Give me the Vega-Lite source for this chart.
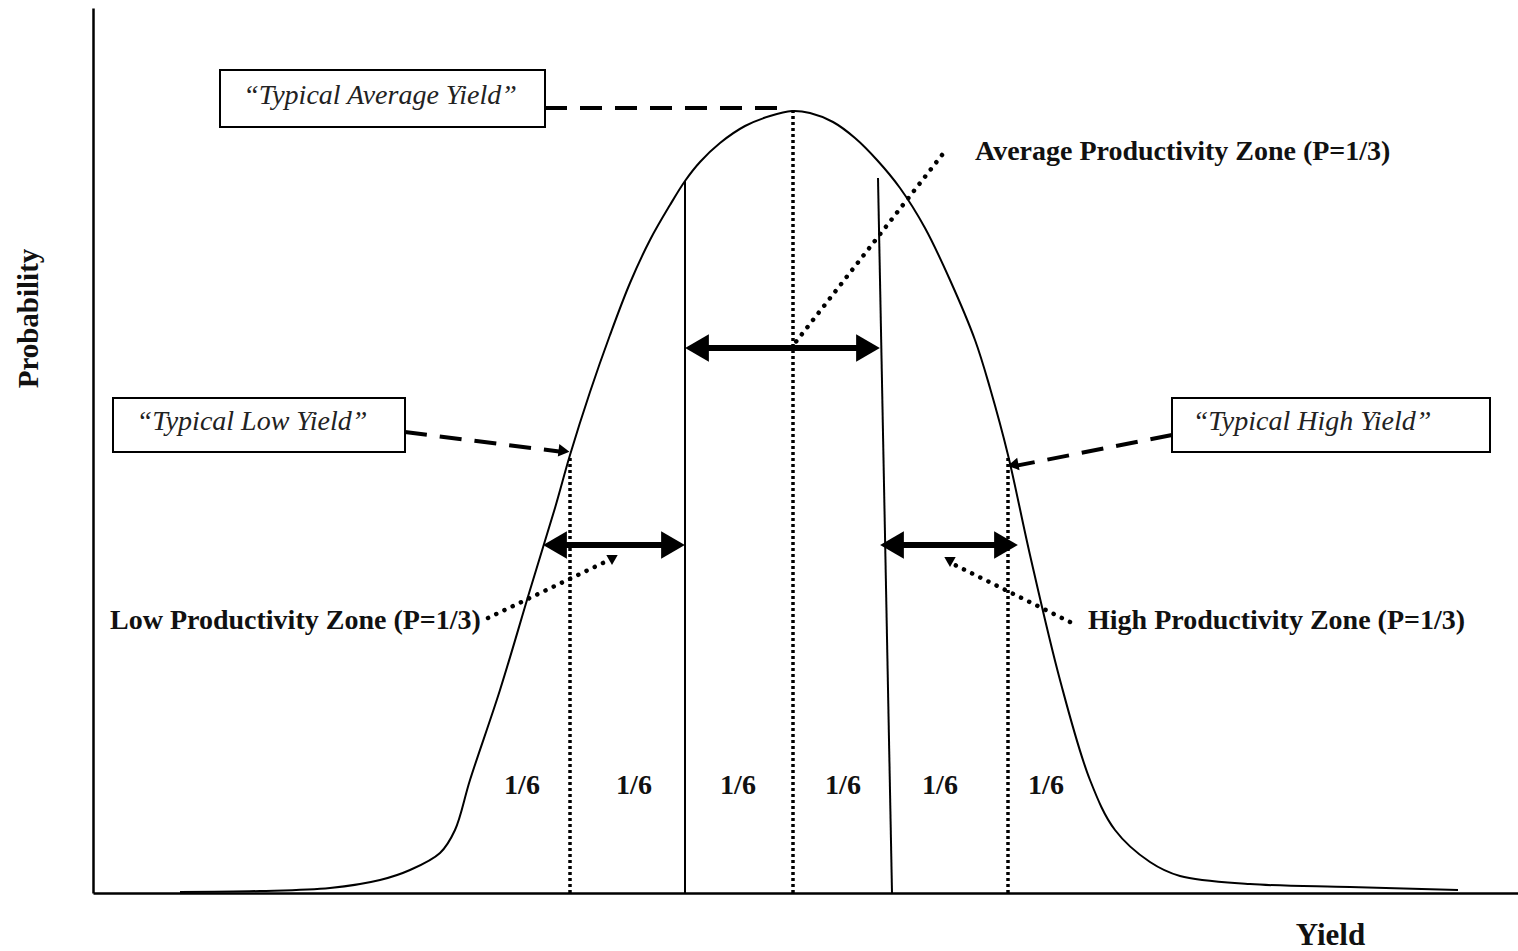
{
  "$schema": "https://vega.github.io/schema/vega-lite/v6.json",
  "width": 1425,
  "height": 885,
  "autosize": {"type": "none"},
  "padding": {"left": 93, "top": 8, "right": 0, "bottom": 58},
  "background": "white",
  "config": {"view": {"stroke": null}, "font": "Liberation Serif"},
  "datasets": {
    "curve": [
      {"yield": 87, "prob": 1}, {"yield": 167, "prob": 2}, {"yield": 237, "prob": 5},
      {"yield": 287, "prob": 13}, {"yield": 317, "prob": 23}, {"yield": 347, "prob": 40},
      {"yield": 362, "prob": 63}, {"yield": 377, "prob": 113}, {"yield": 407, "prob": 203},
      {"yield": 437, "prob": 303}, {"yield": 462, "prob": 385}, {"yield": 477, "prob": 438},
      {"yield": 497, "prob": 501}, {"yield": 517, "prob": 558}, {"yield": 537, "prob": 610},
      {"yield": 557, "prob": 653}, {"yield": 577, "prob": 688}, {"yield": 592, "prob": 712},
      {"yield": 607, "prob": 731}, {"yield": 627, "prob": 750}, {"yield": 652, "prob": 767},
      {"yield": 677, "prob": 777}, {"yield": 699, "prob": 782}, {"yield": 717, "prob": 780},
      {"yield": 740, "prob": 771}, {"yield": 762, "prob": 755}, {"yield": 784, "prob": 733},
      {"yield": 807, "prob": 705}, {"yield": 832, "prob": 665}, {"yield": 857, "prob": 613},
      {"yield": 882, "prob": 553}, {"yield": 897, "prob": 505}, {"yield": 915, "prob": 438},
      {"yield": 937, "prob": 338}, {"yield": 967, "prob": 213}, {"yield": 997, "prob": 113},
      {"yield": 1022, "prob": 63}, {"yield": 1057, "prob": 31}, {"yield": 1087, "prob": 17},
      {"yield": 1157, "prob": 9}, {"yield": 1257, "prob": 6}, {"yield": 1365, "prob": 3}
    ],
    "dottedV": [
      {"x": 477, "x2": 477, "y": 0, "y2": 438},
      {"x": 700, "x2": 700, "y": 0, "y2": 782},
      {"x": 915, "x2": 915, "y": 0, "y2": 436}
    ],
    "solidV": [
      {"x": 592, "x2": 592, "y": 0, "y2": 712},
      {"x": 799, "x2": 785, "y": 0, "y2": 715}
    ],
    "shafts": [
      {"x": 600, "x2": 779, "y": 545},
      {"x": 458, "x2": 584, "y": 348},
      {"x": 795, "x2": 917, "y": 348}
    ],
    "headsL": [
      {"x": 604, "y": 545}, {"x": 462, "y": 348}, {"x": 799, "y": 348}
    ],
    "headsR": [
      {"x": 775, "y": 545}, {"x": 580, "y": 348}, {"x": 913, "y": 348}
    ],
    "dashed": [
      {"x": 452, "x2": 697, "y": 785, "y2": 785},
      {"x": 312, "x2": 470, "y": 461, "y2": 441},
      {"x": 1079, "x2": 922, "y": 458, "y2": 427}
    ],
    "dashHeads": [
      {"x": 471, "y": 442, "dir": "right"},
      {"x": 920, "y": 428, "dir": "left"}
    ],
    "dotted": [
      {"x": 849, "x2": 702, "y": 738, "y2": 550},
      {"x": 395, "x2": 512, "y": 275, "y2": 331},
      {"x": 977, "x2": 862, "y": 271, "y2": 328}
    ],
    "dotHeads": [
      {"x": 519, "y": 333}, {"x": 857, "y": 331}
    ],
    "boxes": [
      {"x": 127, "x2": 452, "y": 823, "y2": 766, "label": "“Typical Average Yield”", "cx": 287, "cy": 797},
      {"x": 20, "x2": 312, "y": 495, "y2": 441, "label": "“Typical Low Yield”", "cx": 159, "cy": 471},
      {"x": 1079, "x2": 1397, "y": 495, "y2": 441, "label": "“Typical High Yield”", "cx": 1219, "cy": 471}
    ],
    "zones": [
      {"x": 882, "y": 741, "label": "Average Productivity Zone (P=1/3)"},
      {"x": 17, "y": 272, "label": "Low Productivity Zone (P=1/3)"},
      {"x": 995, "y": 272, "label": "High Productivity Zone (P=1/3)"}
    ],
    "sixths": [
      {"x": 429, "y": 107, "label": "1/6"}, {"x": 541, "y": 107, "label": "1/6"},
      {"x": 645, "y": 107, "label": "1/6"}, {"x": 750, "y": 107, "label": "1/6"},
      {"x": 847, "y": 107, "label": "1/6"}, {"x": 953, "y": 107, "label": "1/6"}
    ]
  },
  "layer": [
    {
      "data": {"name": "curve"},
      "mark": {"type": "line", "color": "black", "strokeWidth": 2, "interpolate": "catmull-rom"},
      "encoding": {
        "x": {"field": "yield", "type": "quantitative",
              "scale": {"domain": [0, 1425], "nice": false, "zero": false},
              "axis": {"domain": true, "domainColor": "black", "domainWidth": 2.5, "ticks": false, "labels": false, "grid": false,
                       "title": "Yield", "titleFont": "Liberation Serif", "titleFontSize": 31, "titleFontWeight": "bold",
                       "titleColor": "#111", "titleX": 1237, "titleY": 42, "titleAlign": "center", "titleBaseline": "middle"}},
        "y": {"field": "prob", "type": "quantitative",
              "scale": {"domain": [0, 885], "nice": false, "zero": false},
              "axis": {"domain": true, "domainColor": "black", "domainWidth": 2.5, "ticks": false, "labels": false, "grid": false,
                       "title": "Probability", "titleFont": "Liberation Serif", "titleFontSize": 29, "titleFontWeight": "bold",
                       "titleColor": "#111", "titleX": -65, "titleY": 310, "titleAlign": "center", "titleBaseline": "middle", "titleAngle": -90}}
      }
    },
    {
      "data": {"name": "dottedV"},
      "mark": {"type": "rule", "color": "black", "strokeWidth": 3.5, "strokeDash": [3, 3]},
      "encoding": {
        "x": {"field": "x", "type": "quantitative"}, "x2": {"field": "x2"},
        "y": {"field": "y", "type": "quantitative"}, "y2": {"field": "y2"}
      }
    },
    {
      "data": {"name": "solidV"},
      "mark": {"type": "rule", "color": "black", "strokeWidth": 2},
      "encoding": {
        "x": {"field": "x", "type": "quantitative"}, "x2": {"field": "x2"},
        "y": {"field": "y", "type": "quantitative"}, "y2": {"field": "y2"}
      }
    },
    {
      "data": {"name": "shafts"},
      "mark": {"type": "rule", "color": "black", "strokeWidth": 6},
      "encoding": {
        "x": {"field": "x", "type": "quantitative"}, "x2": {"field": "x2"},
        "y": {"field": "y", "type": "quantitative"}
      }
    },
    {
      "data": {"name": "headsL"},
      "mark": {"type": "point", "shape": "triangle-left", "filled": true, "color": "black", "size": 750, "opacity": 1},
      "encoding": {
        "x": {"field": "x", "type": "quantitative"},
        "y": {"field": "y", "type": "quantitative"}
      }
    },
    {
      "data": {"name": "headsR"},
      "mark": {"type": "point", "shape": "triangle-right", "filled": true, "color": "black", "size": 750, "opacity": 1},
      "encoding": {
        "x": {"field": "x", "type": "quantitative"},
        "y": {"field": "y", "type": "quantitative"}
      }
    },
    {
      "data": {"name": "dashed"},
      "mark": {"type": "rule", "color": "black", "strokeWidth": 4, "strokeDash": [22, 13]},
      "encoding": {
        "x": {"field": "x", "type": "quantitative"}, "x2": {"field": "x2"},
        "y": {"field": "y", "type": "quantitative"}, "y2": {"field": "y2"}
      }
    },
    {
      "data": {"name": "dashHeads"},
      "transform": [{"filter": "datum.dir == 'right'"}],
      "mark": {"type": "point", "shape": "triangle-right", "filled": true, "color": "black", "size": 160, "opacity": 1, "angle": 7},
      "encoding": {
        "x": {"field": "x", "type": "quantitative"},
        "y": {"field": "y", "type": "quantitative"}
      }
    },
    {
      "data": {"name": "dashHeads"},
      "transform": [{"filter": "datum.dir == 'left'"}],
      "mark": {"type": "point", "shape": "triangle-left", "filled": true, "color": "black", "size": 160, "opacity": 1, "angle": -11},
      "encoding": {
        "x": {"field": "x", "type": "quantitative"},
        "y": {"field": "y", "type": "quantitative"}
      }
    },
    {
      "data": {"name": "dotted"},
      "mark": {"type": "rule", "color": "black", "strokeWidth": 4.5, "strokeDash": [0.1, 9], "strokeCap": "round"},
      "encoding": {
        "x": {"field": "x", "type": "quantitative"}, "x2": {"field": "x2"},
        "y": {"field": "y", "type": "quantitative"}, "y2": {"field": "y2"}
      }
    },
    {
      "data": {"name": "dotHeads"},
      "mark": {"type": "point", "shape": "triangle-down", "filled": true, "color": "black", "size": 130, "opacity": 1},
      "encoding": {
        "x": {"field": "x", "type": "quantitative"},
        "y": {"field": "y", "type": "quantitative"}
      }
    },
    {
      "data": {"name": "boxes"},
      "mark": {"type": "rect", "fill": "white", "stroke": "black", "strokeWidth": 2},
      "encoding": {
        "x": {"field": "x", "type": "quantitative"}, "x2": {"field": "x2"},
        "y": {"field": "y", "type": "quantitative"}, "y2": {"field": "y2"}
      }
    },
    {
      "data": {"name": "boxes"},
      "mark": {"type": "text", "font": "Liberation Serif", "fontStyle": "italic", "fontSize": 28, "color": "#222", "align": "center", "baseline": "middle"},
      "encoding": {
        "x": {"field": "cx", "type": "quantitative"},
        "y": {"field": "cy", "type": "quantitative"},
        "text": {"field": "label"}
      }
    },
    {
      "data": {"name": "zones"},
      "mark": {"type": "text", "font": "Liberation Serif", "fontWeight": "bold", "fontSize": 28, "color": "#111", "align": "left", "baseline": "middle"},
      "encoding": {
        "x": {"field": "x", "type": "quantitative"},
        "y": {"field": "y", "type": "quantitative"},
        "text": {"field": "label"}
      }
    },
    {
      "data": {"name": "sixths"},
      "mark": {"type": "text", "font": "Liberation Serif", "fontWeight": "bold", "fontSize": 28, "color": "#111", "align": "center", "baseline": "middle"},
      "encoding": {
        "x": {"field": "x", "type": "quantitative"},
        "y": {"field": "y", "type": "quantitative"},
        "text": {"field": "label"}
      }
    }
  ]
}
